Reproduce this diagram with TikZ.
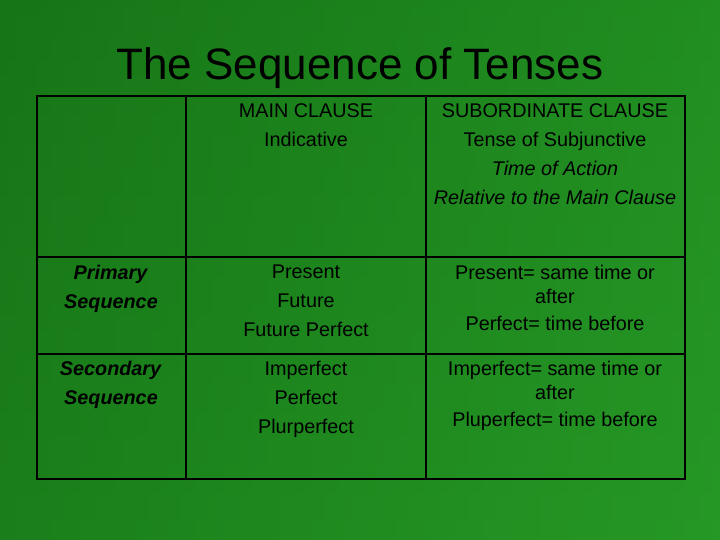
\documentclass[tikz,border=0pt]{standalone}
\usepackage{fontspec}
\setmainfont{Liberation Sans}
\begin{document}
\begin{tikzpicture}[x=1pt,y=-1pt,
  cell/.style={align=center,font=\fontsize{19.8}{29}\selectfont,inner sep=0pt},
  rule/.style={line width=2pt,black}]
\useasboundingbox (0,0) rectangle (720,540);
\fill[top color={rgb,255:red,30;green,160;blue,30}, bottom color={rgb,255:red,48;green,200;blue,48}] (0,0) rectangle (720,540);
\fill[left color={rgb,255:red,30;green,155;blue,30}, right color={rgb,255:red,52;green,205;blue,52}, opacity=0.5] (0,0) rectangle (720,540);
\node[font=\fontsize{44}{48}\selectfont] (title) at (360,68) {The Sequence of Tenses};
\coordinate (tl) at (37,96); \coordinate (br) at (685,479);
\draw[rule] (tl) rectangle (br);
\draw[rule] (186,96) -- (186,479);
\draw[rule] (426,96) -- (426,479);
\draw[rule] (37,257) -- (685,257);
\draw[rule] (37,354) -- (685,354);
\node[cell,anchor=north] (h1) at (306,103) {MAIN CLAUSE\\Indicative};
\node[cell,anchor=north] (h2) at (555,103) {SUBORDINATE CLAUSE\\Tense of Subjunctive\\\textit{Time of Action}\\\textit{Relative to the Main Clause}};
\node[cell,anchor=north] (p0) at (111,265) {\textbf{\textit{Primary}}\\\textbf{\textit{Sequence}}};
\node[cell,anchor=north] (p1) at (306,265) {Present\\Future\\Future Perfect};
\node[cell,anchor=north,font=\fontsize{19.8}{24}\selectfont] (p2) at (555,265) {Present= same time or\\after\\[3pt]Perfect= time before};
\node[cell,anchor=north] (s0) at (111,361) {\textbf{\textit{Secondary}}\\\textbf{\textit{Sequence}}};
\node[cell,anchor=north] (s1) at (306,361) {Imperfect\\Perfect\\Plurperfect};
\node[cell,anchor=north,font=\fontsize{19.8}{24}\selectfont] (s2) at (555,361) {Imperfect= same time or\\after\\[3pt]Pluperfect= time before};
\end{tikzpicture}
\end{document}
